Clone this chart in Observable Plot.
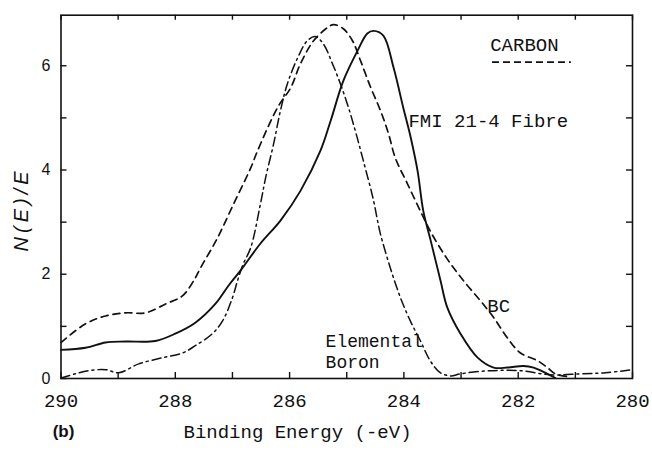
<!DOCTYPE html>
<html>
<head>
<meta charset="utf-8">
<script src="https://cdn.jsdelivr.net/npm/d3@7"></script>
<script src="https://cdn.jsdelivr.net/npm/@observablehq/plot@0.6"></script>
<style>
  html, body { margin: 0; padding: 0; background: white; }
</style>
</head>
<body>
<div id="chart"></div>
<script>
// FMI 21-4 Fibre (solid)
const fmiE = [290.0, 289.57, 289.22, 288.87, 288.35, 288.0, 287.65, 287.30, 287.07, 286.86, 286.51, 286.16, 285.81, 285.46, 285.28, 285.06, 284.81, 284.64, 284.53, 284.36, 284.18, 284.01, 283.88, 283.76, 283.66, 283.53, 283.36, 283.24, 283.01, 282.71, 282.43, 282.19, 281.91, 281.73, 281.49, 281.35];
const fmiN = [0.55, 0.59, 0.69, 0.71, 0.72, 0.86, 1.07, 1.43, 1.78, 2.07, 2.59, 3.03, 3.60, 4.37, 4.95, 5.71, 6.29, 6.62, 6.67, 6.58, 5.96, 5.19, 4.62, 3.98, 3.21, 2.64, 1.88, 1.36, 0.86, 0.40, 0.21, 0.21, 0.24, 0.21, 0.09, 0.01];

// BC (dashed)
const bcE = [290.0, 289.57, 289.22, 288.87, 288.52, 288.17, 287.87, 287.65, 287.56, 287.26, 286.98, 286.68, 286.56, 286.21, 285.98, 285.81, 285.58, 285.34, 285.23, 285.06, 284.90, 284.76, 284.58, 284.41, 284.27, 284.15, 283.94, 283.71, 283.53, 283.24, 282.96, 282.66, 282.43, 282.19, 281.96, 281.66, 281.49, 281.35, 281.15];
const bcN = [0.69, 1.05, 1.20, 1.26, 1.26, 1.43, 1.59, 1.93, 2.12, 2.70, 3.35, 4.04, 4.37, 5.20, 5.58, 6.04, 6.48, 6.73, 6.79, 6.71, 6.48, 6.10, 5.58, 5.14, 4.70, 4.23, 3.74, 3.21, 2.81, 2.29, 1.88, 1.49, 1.17, 0.78, 0.49, 0.34, 0.21, 0.09, 0.04];

// Elemental Boron (dash-dot)
const boronE = [290.0, 289.75, 289.52, 289.22, 288.99, 288.64, 288.22, 287.87, 287.65, 287.35, 287.17, 287.00, 286.91, 286.81, 286.68, 286.51, 286.42, 286.28, 286.16, 286.04, 285.86, 285.69, 285.55, 285.41, 285.25, 285.11, 284.97, 284.85, 284.71, 284.53, 284.46, 284.41, 284.24, 284.06, 283.89, 283.71, 283.54, 283.36, 283.18, 283.01, 282.49, 281.96, 281.43, 280.91, 280.47, 280.0];
const boronN = [0.01, 0.09, 0.15, 0.17, 0.11, 0.28, 0.40, 0.49, 0.63, 0.86, 1.11, 1.55, 1.88, 2.20, 2.51, 3.35, 3.85, 4.50, 5.14, 5.65, 6.15, 6.48, 6.56, 6.42, 6.04, 5.65, 5.20, 4.75, 4.18, 3.41, 3.02, 2.77, 2.13, 1.55, 1.11, 0.72, 0.34, 0.11, 0.05, 0.09, 0.15, 0.15, 0.07, 0.09, 0.11, 0.17];

// Axis ticks / labels
const xTickLabels = [290, 288, 286, 284, 282, 280];
const xMinorTicks = [290, 289, 288, 287, 286, 285, 284, 283, 282, 281, 280];
const yTickLabels = [0, 2, 4, 6];
const yMinorTicks = [0, 1, 2, 3, 4, 5, 6];

// Annotation labels (text, energy, value, size)
const labelText = ["CARBON", "FMI 21-4 Fibre", "BC", "Elemental", "Boron"];
const labelE = [282.49, 283.92, 282.54, 285.37, 285.37];
const labelN = [6.40, 4.95, 1.40, 0.714, 0.32];
const labelSize = [19, 19, 19, 18, 18];
const legendE = [282.45, 281.07];
const legendN = 6.07;

const toRows = (E, N) => E.map((e, i) => ({E: e, N: N[i]}));
const fmi = toRows(fmiE, fmiN);
const bc = toRows(bcE, bcN);
const boron = toRows(boronE, boronN);
const labels = labelText.map((t, i) => ({t, E: labelE[i], N: labelN[i], s: labelSize[i]}));

const W = 652, H = 453;
const mL = 60.5, mR = 20, mT = 14.7, mB = 75;
const innerH = H - mT - mB;
const innerW = W - mL - mR;
const tl = 6;
const mono = "'Liberation Mono', 'Courier New', monospace";
const sans = "'Liberation Sans', Arial, sans-serif";
const ink = "#111";

const plot = Plot.plot({
  width: W,
  height: H,
  marginLeft: mL, marginRight: mR, marginTop: mT, marginBottom: mB,
  x: {domain: [290, 280], axis: null},
  y: {domain: [0, 6.97], axis: null},
  style: {background: "white", color: ink, fontFamily: mono},
  marks: [
    Plot.frame({stroke: ink, strokeWidth: 1.6}),
    // inward ticks
    Plot.tickX(xMinorTicks, {x: d => d, insetTop: innerH - tl, stroke: ink, strokeWidth: 1.4}),
    Plot.tickX(xMinorTicks, {x: d => d, insetBottom: innerH - tl + 1, stroke: ink, strokeWidth: 1.4}),
    Plot.tickY(yMinorTicks, {y: d => d, insetRight: innerW - tl, stroke: ink, strokeWidth: 1.4}),
    Plot.tickY(yMinorTicks.filter(d => d > 0), {y: d => d, insetLeft: innerW - tl, stroke: ink, strokeWidth: 1.4}),
    // tick labels
    Plot.text(xTickLabels, {x: d => d, text: d => String(d), frameAnchor: "bottom", dy: 22, lineAnchor: "middle", fontSize: 19, fontFamily: mono, fill: ink}),
    Plot.text(yTickLabels, {y: d => d, text: d => String(d), frameAnchor: "left", dx: -10.5, textAnchor: "end", lineAnchor: "middle", fontSize: 16, fontFamily: sans, fill: ink}),
    // curves
    Plot.line(boron, {x: "E", y: "N", stroke: ink, strokeWidth: 1.5, strokeDasharray: "9,4,2,4", curve: "catmull-rom"}),
    Plot.line(bc, {x: "E", y: "N", stroke: ink, strokeWidth: 1.7, strokeDasharray: "7,5", curve: "catmull-rom"}),
    Plot.line(fmi, {x: "E", y: "N", stroke: ink, strokeWidth: 1.9, curve: "catmull-rom"}),
    // legend sample under CARBON
    Plot.ruleY([legendN], {x1: legendE[0], x2: legendE[1], stroke: ink, strokeWidth: 1.7, strokeDasharray: "7,4"}),
    // annotations
    Plot.text(labels, {x: "E", y: "N", text: "t", fontSize: "s", textAnchor: "start", lineAnchor: "middle", fontFamily: mono, fill: ink}),
    // axis titles
    Plot.text(["N(E)/E"], {text: d => d, frameAnchor: "left", dx: -39.5, dy: 12.6, rotate: -90, textAnchor: "middle", lineAnchor: "middle", fontSize: 20, fontStyle: "italic", fontFamily: sans, fill: ink}),
    Plot.text(["Binding Energy (-eV)"], {text: d => d, frameAnchor: "bottom-left", dx: 183 - mL, dy: 53, textAnchor: "start", lineAnchor: "middle", fontSize: 19, fontFamily: mono, fill: ink}),
    Plot.text(["(b)"], {text: d => d, frameAnchor: "bottom-left", dx: 63 - mL, dy: 53, textAnchor: "middle", lineAnchor: "middle", fontSize: 17, fontWeight: "bold", fontFamily: sans, fill: ink})
  ]
});

d3.select(plot).selectAll("text").filter(function () { return this.textContent === "N(E)/E"; })
  .attr("letter-spacing", "4px");

document.getElementById("chart").appendChild(plot);
</script>
</body>
</html>
